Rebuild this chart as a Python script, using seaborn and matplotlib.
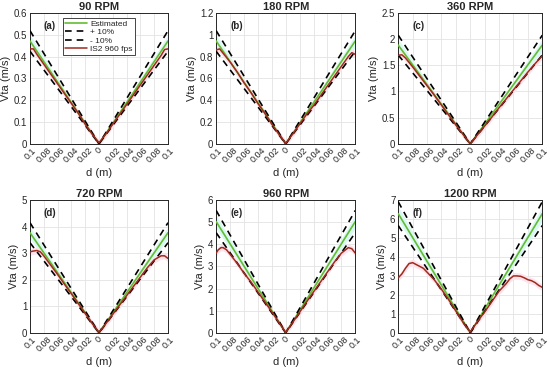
import numpy as np
import pandas as pd
import matplotlib
matplotlib.use("Agg")
import matplotlib.pyplot as plt
import seaborn as sns

# panel settings
titles = ["90 RPM", "180 RPM", "360 RPM", "720 RPM", "960 RPM", "1200 RPM"]
letters = ["(a)", "(b)", "(c)", "(d)", "(e)", "(f)"]
rpm = [90, 180, 360, 720, 960, 1200]
ymax = [0.6, 1.2, 2.5, 5, 6, 7]
ystep = [0.1, 0.2, 0.5, 1, 1, 1]

# estimated line end points (d in m)
d_est = [-0.1, 0.0, 0.1]

d_a = [-0.1, -0.095, -0.09, -0.08, -0.07, -0.06, -0.05, -0.04, -0.03, -0.02, -0.01, 0.0,
       0.01, 0.02, 0.03, 0.04, 0.05, 0.06, 0.07, 0.08, 0.09, 0.095, 0.1]
v_a = [0.435, 0.435, 0.41, 0.365, 0.32, 0.275, 0.23, 0.185, 0.14, 0.09, 0.045, 0.005,
       0.045, 0.09, 0.135, 0.18, 0.225, 0.27, 0.315, 0.36, 0.405, 0.432, 0.435]

d_b = [-0.1, -0.095, -0.09, -0.08, -0.07, -0.06, -0.05, -0.04, -0.03, -0.02, -0.01, 0.0,
       0.01, 0.02, 0.03, 0.04, 0.05, 0.06, 0.07, 0.08, 0.09, 0.095, 0.1]
v_b = [0.86, 0.87, 0.83, 0.75, 0.66, 0.56, 0.47, 0.37, 0.28, 0.18, 0.09, 0.005,
       0.09, 0.18, 0.27, 0.35, 0.44, 0.53, 0.62, 0.71, 0.80, 0.835, 0.82]

d_c = [-0.1, -0.095, -0.09, -0.08, -0.07, -0.06, -0.05, -0.04, -0.03, -0.02, -0.01, 0.0,
       0.01, 0.02, 0.03, 0.04, 0.05, 0.06, 0.07, 0.08, 0.09, 0.1]
v_c = [1.69, 1.70, 1.64, 1.47, 1.29, 1.11, 0.93, 0.74, 0.55, 0.36, 0.18, 0.0,
       0.17, 0.34, 0.51, 0.69, 0.86, 1.03, 1.2, 1.37, 1.53, 1.68]

d_d = [-0.1, -0.095, -0.09, -0.085, -0.08, -0.07, -0.06, -0.05, -0.04, -0.03, -0.02, -0.01, 0.0,
       0.01, 0.02, 0.03, 0.04, 0.05, 0.06, 0.07, 0.08, 0.09, 0.095, 0.1]
v_d = [3.05, 3.08, 3.1, 3.05, 2.9, 2.55, 2.2, 1.83, 1.47, 1.1, 0.73, 0.36, 0.02,
       0.35, 0.7, 1.05, 1.4, 1.75, 2.1, 2.45, 2.75, 2.9, 2.9, 2.8]

d_e = [-0.1, -0.097, -0.093, -0.09, -0.085, -0.08, -0.07, -0.06, -0.05, -0.04, -0.03, -0.02, -0.01, 0.0,
       0.01, 0.02, 0.03, 0.04, 0.05, 0.06, 0.07, 0.08, 0.09, 0.095, 0.1]
v_e = [3.6, 3.75, 3.85, 3.85, 3.75, 3.55, 3.15, 2.7, 2.3, 1.85, 1.4, 0.95, 0.48, 0.02,
       0.47, 0.93, 1.4, 1.85, 2.3, 2.75, 3.2, 3.6, 3.85, 3.8, 3.6]

d_f = [-0.1, -0.095, -0.09, -0.085, -0.08, -0.075, -0.07, -0.065, -0.06, -0.05, -0.04, -0.03, -0.02, -0.01, 0.0,
       0.01, 0.02, 0.03, 0.04, 0.05, 0.055, 0.06, 0.065, 0.07, 0.075, 0.08, 0.085, 0.09, 0.095, 0.1]
v_f = [2.9, 3.1, 3.4, 3.65, 3.7, 3.6, 3.5, 3.4, 3.2, 2.8, 2.3, 1.75, 1.15, 0.55, 0.05,
       0.6, 1.1, 1.65, 2.2, 2.6, 2.85, 3.0, 3.0, 2.98, 2.9, 2.8, 2.75, 2.65, 2.5, 2.4]

meas_d = [d_a, d_b, d_c, d_d, d_e, d_f]
meas_v = [v_a, v_b, v_c, v_d, v_e, v_f]

xticks = [-0.1, -0.08, -0.06, -0.04, -0.02, 0, 0.02, 0.04, 0.06, 0.08, 0.1]
xticklabels = ["0.1", "0.08", "0.06", "0.04", "0.02", "0", "0.02", "0.04", "0.06", "0.08", "0.1"]

sns.set_style("white")
plt.rcParams['font.family'] = ['Liberation Sans', 'DejaVu Sans']

green = "#62bd2f"
brown = "#a12a1c"

fig = plt.figure(figsize=(5.5, 3.67), dpi=100)
# axes boxes [left, bottom, width, height]
boxes = [[0.0545, 0.608, 0.251, 0.357], [0.393, 0.608, 0.253, 0.357], [0.724, 0.608, 0.262, 0.357],
         [0.0545, 0.093, 0.251, 0.362], [0.393, 0.093, 0.253, 0.362], [0.724, 0.093, 0.262, 0.362]]

for i in range(6):
    ax = fig.add_axes(boxes[i])
    k = rpm[i] * 2 * np.pi / 60 / 2
    est = pd.DataFrame({"d": d_est, "v": [k * abs(x) for x in d_est]})
    md = pd.DataFrame({"d": meas_d[i], "v": meas_v[i]})

    ax.fill_between(est["d"], est["v"] * 0.94, est["v"] * 1.06, color="#d9f7f3", lw=0, zorder=1)
    ax.fill_between(md["d"], md["v"] - ymax[i] * 0.025, md["v"] + ymax[i] * 0.025,
                    color="#fce3ec", lw=0, zorder=1)

    sns.lineplot(data=est, x="d", y="v", ax=ax, color=green, lw=1.2, label="Estimated", zorder=3)
    sns.lineplot(x=est["d"], y=est["v"] * 1.1, ax=ax, color="k", lw=1.2, ls=(0, (4, 3)),
                 label="+ 10%", zorder=3)
    sns.lineplot(x=est["d"], y=est["v"] * 0.9, ax=ax, color="k", lw=1.2, ls=(0, (4, 3)),
                 label="- 10%", zorder=3)
    sns.lineplot(data=md, x="d", y="v", ax=ax, color=brown, lw=1.1, label="IS2 960 fps",
                 zorder=4, sort=True)

    ax.set_xlim(-0.1, 0.1)
    ax.set_ylim(0, ymax[i])
    ax.set_xticks(xticks)
    ax.set_xticklabels(xticklabels, rotation=45, fontsize=6.5)
    yt = np.arange(0, ymax[i] + ystep[i] / 2, ystep[i])
    ax.set_yticks(yt)
    ax.set_yticklabels(["%g" % round(y, 2) for y in yt], fontsize=7)
    ax.tick_params(direction="in", length=2.5, pad=2, colors="#262626")
    ax.tick_params(axis="x", pad=1.5)
    ax.grid(True, color="#e3e3e3", lw=0.6)
    for s in ax.spines.values():
        s.set_color("#262626")
        s.set_linewidth(0.7)
    ax.set_xlabel("d (m)", fontsize=8, labelpad=2)
    ax.set_ylabel("Vta (m/s)", fontsize=8, labelpad=2)
    ax.set_title(titles[i], fontsize=8, fontweight="bold", pad=2)
    ax.text(0.1, 0.88, letters[i], transform=ax.transAxes, fontsize=7, fontweight="bold")

    if i == 0:
        leg = ax.legend(loc="upper left", bbox_to_anchor=(0.24, 0.96), fontsize=6, frameon=True,
                        fancybox=False, framealpha=1, edgecolor="#262626", borderpad=0.25,
                        labelspacing=0.05, handlelength=2.6, handletextpad=0.4, borderaxespad=0)
        leg.get_frame().set_linewidth(0.6)
    else:
        ax.get_legend().remove()

fig.savefig("out.png", dpi=100)
